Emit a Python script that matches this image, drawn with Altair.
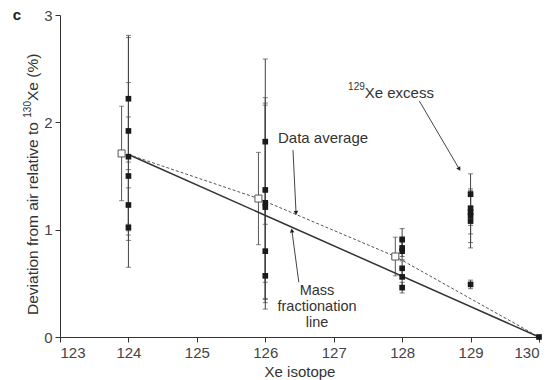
import altair as alt
import pandas as pd

FONT = "Liberation Sans"
TXT = "#333333"

# Individual measurements (isotope, value, 1-sigma error)
x124 = [2.22, 1.92, 1.68, 1.50, 1.23, 1.02]
e124 = [0.59, 0.87, 0.69, 0.55, 0.33, 0.37]
x126 = [1.82, 1.37, 1.25, 1.21, 0.80, 0.57]
e126 = [0.77, 0.86, 0.93, 0.95, 0.45, 0.21]
x128 = [0.91, 0.83, 0.80, 0.64, 0.56, 0.46]
e128 = [0.10, 0.08, 0.08, 0.07, 0.08, 0.05]
x129 = [1.33, 1.20, 1.16, 1.13, 1.08, 0.49]
e129 = [0.19, 0.16, 0.20, 0.25, 0.25, 0.04]
x130 = [0.0]
e130 = [0.0]

# Data averages (slightly offset to the left)
avg_x = [123.9, 125.9, 127.9]
avg_y = [1.71, 1.29, 0.75]
avg_e = [0.44, 0.43, 0.18]

# Lines
mass_x = [124, 130]
mass_y = [1.70, 0.0]
davg_x = [124, 125.9, 127.9, 130]
davg_y = [1.70, 1.29, 0.75, 0.0]

rows = []
for iso, vals, errs in [(124, x124, e124), (126, x126, e126), (128, x128, e128),
                        (129, x129, e129), (130, x130, e130)]:
    for v, e in zip(vals, errs):
        rows.append({"x": iso, "y": v, "lo": v - e, "hi": v + e})
pts = pd.DataFrame(rows)
avg = pd.DataFrame({"x": avg_x, "y": avg_y,
                    "lo": [a - b for a, b in zip(avg_y, avg_e)],
                    "hi": [a + b for a, b in zip(avg_y, avg_e)]})
mass = pd.DataFrame({"x": mass_x, "y": mass_y})
davg = pd.DataFrame({"x": davg_x, "y": davg_y})

# Annotation arrows
arrows = pd.DataFrame({
    "x": [128.25, 126.405, 126.49],
    "y": [2.20, 1.741, 0.510],
    "x2": [128.83, 126.449, 126.39],
    "y2": [1.57, 1.163, 0.986],
    "ang": [149.5, 177.0, 352.0],
})
labels = pd.DataFrame({
    "x": [126.186, 127.453],
    "y": [1.853, 2.27],
    "t": ["Data average", "Xe excess"],
})
mass_lab = pd.DataFrame({
    "x": [126.756, 126.756, 126.756],
    "y": [0.428, 0.277, 0.126],
    "t": ["Mass", "fractionation", "line"],
})

xs = alt.Scale(domain=[123, 130], nice=False, zero=False)
ys = alt.Scale(domain=[0, 3], nice=False)

X = alt.X("x:Q", scale=xs, title="Xe isotope",
          axis=alt.Axis(values=[123, 124, 125, 126, 127, 128, 129, 130], format="d"))
Y = alt.Y("y:Q", scale=ys, title=None,
          axis=alt.Axis(values=[0, 1, 2, 3], format="d"))

base_pts = alt.Chart(pts)
err_rule = base_pts.mark_rule(color="#444", strokeWidth=1).encode(
    x=X, y=alt.Y("lo:Q", scale=ys), y2="hi:Q")
cap_lo = base_pts.mark_tick(orient="horizontal", color="#444", size=5, thickness=1).encode(
    x=alt.X("x:Q", scale=xs), y=alt.Y("lo:Q", scale=ys))
cap_hi = base_pts.mark_tick(orient="horizontal", color="#444", size=5, thickness=1).encode(
    x=alt.X("x:Q", scale=xs), y=alt.Y("hi:Q", scale=ys))

base_avg = alt.Chart(avg)
avg_rule = base_avg.mark_rule(color="#555", strokeWidth=1).encode(
    x=alt.X("x:Q", scale=xs), y=alt.Y("lo:Q", scale=ys), y2="hi:Q")
avg_lo = base_avg.mark_tick(orient="horizontal", color="#555", size=5, thickness=1).encode(
    x=alt.X("x:Q", scale=xs), y=alt.Y("lo:Q", scale=ys))
avg_hi = base_avg.mark_tick(orient="horizontal", color="#555", size=5, thickness=1).encode(
    x=alt.X("x:Q", scale=xs), y=alt.Y("hi:Q", scale=ys))

mass_line = alt.Chart(mass).mark_line(color="#333", strokeWidth=1.5).encode(
    x=alt.X("x:Q", scale=xs), y=alt.Y("y:Q", scale=ys))
davg_line = alt.Chart(davg).mark_line(color="#555", strokeWidth=1, strokeDash=[3, 2]).encode(
    x=alt.X("x:Q", scale=xs), y=alt.Y("y:Q", scale=ys))

sq = base_pts.mark_square(color="#1a1a1a", size=32, opacity=1).encode(
    x=alt.X("x:Q", scale=xs), y=Y)
avg_sq = base_avg.mark_square(filled=True, fill="white", stroke="#555", strokeWidth=1,
                              size=49, opacity=1).encode(
    x=alt.X("x:Q", scale=xs), y=alt.Y("y:Q", scale=ys))

base_ar = alt.Chart(arrows)
ar_line = base_ar.mark_rule(color="#444", strokeWidth=1).encode(
    x=alt.X("x:Q", scale=xs), y=alt.Y("y:Q", scale=ys), x2="x2:Q", y2="y2:Q")
ar_head = base_ar.mark_point(shape="triangle", filled=True, color="#222", size=22, opacity=1).encode(
    x=alt.X("x2:Q", scale=xs), y=alt.Y("y2:Q", scale=ys),
    angle=alt.Angle("ang:Q", scale=None))

lab_left = alt.Chart(labels).mark_text(
    align="left", baseline="middle", font=FONT, fontSize=15, color=TXT).encode(
    x=alt.X("x:Q", scale=xs), y=alt.Y("y:Q", scale=ys), text="t:N")
lab_center = alt.Chart(mass_lab).mark_text(
    align="center", baseline="middle", font=FONT, fontSize=14.5, color=TXT).encode(
    x=alt.X("x:Q", scale=xs), y=alt.Y("y:Q", scale=ys), text="t:N")

sup_lab = alt.Chart(pd.DataFrame({"x": [127.21], "y": [2.33], "t": ["129"]})).mark_text(
    align="left", baseline="middle", font=FONT, fontSize=10, color=TXT).encode(
    x=alt.X("x:Q", scale=xs), y=alt.Y("y:Q", scale=ys), text="t:N")

panel = alt.Chart(pd.DataFrame({"t": ["c"]})).mark_text(
    align="center", baseline="middle", font=FONT, fontSize=15, fontWeight="bold", color="#222").encode(
    x=alt.value(-43), y=alt.value(0), text="t:N")

# Y-axis title built from pieces so the superscript renders properly
yt1 = alt.Chart(pd.DataFrame({"t": ["Deviation from air relative to "]})).mark_text(
    align="left", baseline="middle", angle=270, font=FONT, fontSize=15.5, color=TXT).encode(
    x=alt.value(-27), y=alt.value(300), text="t:N")
yt2 = alt.Chart(pd.DataFrame({"t": ["130"]})).mark_text(
    align="left", baseline="middle", angle=270, font=FONT, fontSize=10, color=TXT).encode(
    x=alt.value(-32), y=alt.value(102.7), text="t:N")
yt3 = alt.Chart(pd.DataFrame({"t": ["Xe (%)"]})).mark_text(
    align="left", baseline="middle", angle=270, font=FONT, fontSize=15.5, color=TXT).encode(
    x=alt.value(-27), y=alt.value(86), text="t:N")

chart = alt.layer(
    err_rule, cap_lo, cap_hi, avg_rule, avg_lo, avg_hi,
    mass_line, davg_line, sq, avg_sq, ar_line, ar_head,
    lab_left, lab_center, sup_lab, panel, yt1, yt2, yt3,
).properties(
    width=479, height=322,
    autosize=alt.AutoSizeParams(type="none"),
    padding={"left": 60, "top": 15, "right": 13, "bottom": 43},
    background="white",
).configure_view(stroke=None).configure_axis(
    grid=False, domainColor="#333", tickColor="#333", tickSize=5,
    labelFont=FONT, titleFont=FONT, labelFontSize=15, titleFontSize=15,
    labelColor="#444", titleColor=TXT, titleFontWeight="normal",
).configure_axisY(labelPadding=3).configure_axisX(titlePadding=4, labelPadding=3)

chart.save("out.html", embed_options={"renderer": "svg", "actions": False})
